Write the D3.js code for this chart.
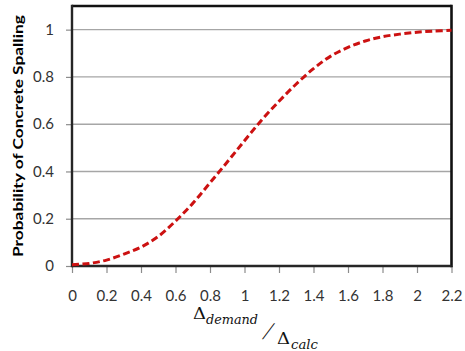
<!DOCTYPE html>
<html>
<head>
<meta charset="utf-8">
<script src="https://cdn.jsdelivr.net/npm/d3@7"></script>
<style>
  html, body { margin: 0; padding: 0; background: #fff; }
  svg { display: block; }
</style>
</head>
<body>
<svg id="chart" width="465" height="351"></svg>
<script>
// Demand-to-capacity ratio and spalling probability along the fragility curve
const ratio = [0, 0.1, 0.2, 0.3, 0.4, 0.5, 0.6, 0.7, 0.8, 0.9, 1.0, 1.1,
               1.2, 1.3, 1.4, 1.5, 1.6, 1.7, 1.8, 1.9, 2.0, 2.1, 2.2];
const probability = [0.005, 0.011, 0.025, 0.05, 0.08, 0.125, 0.19, 0.265,
                     0.352, 0.44, 0.53, 0.618, 0.697, 0.77, 0.835, 0.888,
                     0.925, 0.952, 0.97, 0.981, 0.989, 0.994, 0.997];
const xTicks = [0, 0.2, 0.4, 0.6, 0.8, 1, 1.2, 1.4, 1.6, 1.8, 2, 2.2];
const yTicks = [0, 0.2, 0.4, 0.6, 0.8, 1];

const svg = d3.select("#chart");
const plotLeft = 72, plotRight = 451.5, plotBottom = 266, plotTop = 6;

const x = d3.scaleLinear().domain([0, 2.2]).range([plotLeft, plotRight]);
const y = d3.scaleLinear().domain([0, 1.1]).range([plotBottom, plotTop]);

const tickFont = "Lato, 'Open Sans', sans-serif";

// horizontal gridlines
svg.append("g").selectAll("line")
  .data(yTicks.filter(d => d > 0))
  .join("line")
  .attr("x1", plotLeft).attr("x2", plotRight)
  .attr("y1", d => y(d)).attr("y2", d => y(d))
  .attr("stroke", "#a6a6a6").attr("stroke-width", 1.4);

// y axis
const yAxis = svg.append("g")
  .attr("transform", `translate(${plotLeft},0)`)
  .call(d3.axisLeft(y).tickValues(yTicks).tickSize(6).tickPadding(12)
    .tickFormat(d3.format("~g")));
yAxis.select(".domain").remove();
yAxis.selectAll(".tick line").attr("stroke", "#8c8c8c").attr("stroke-width", 1.2);
yAxis.selectAll(".tick text")
  .attr("font-family", tickFont).attr("font-size", 15)
  .attr("fill", "#333");

// x axis
const xAxis = svg.append("g")
  .attr("transform", `translate(0,${plotBottom})`)
  .call(d3.axisBottom(x).tickValues(xTicks).tickSize(7).tickPadding(17)
    .tickFormat(d3.format("~g")));
xAxis.select(".domain").remove();
xAxis.selectAll(".tick line").attr("stroke", "#8c8c8c").attr("stroke-width", 1.2);
xAxis.selectAll(".tick text")
  .attr("font-family", tickFont).attr("font-size", 15)
  .attr("fill", "#333");

// plot frame
svg.append("line").attr("x1", plotLeft).attr("x2", plotRight).attr("y1", plotTop).attr("y2", plotTop)
  .attr("stroke", "#111").attr("stroke-width", 2.4);
svg.append("line").attr("x1", plotRight).attr("x2", plotRight).attr("y1", plotTop - 1.2).attr("y2", plotBottom + 1.3)
  .attr("stroke", "#111").attr("stroke-width", 2.6);
svg.append("line").attr("x1", plotLeft).attr("x2", plotLeft).attr("y1", plotTop - 1.2).attr("y2", plotBottom + 1.3)
  .attr("stroke", "#262626").attr("stroke-width", 2.4);
svg.append("line").attr("x1", plotLeft).attr("x2", plotRight).attr("y1", plotBottom).attr("y2", plotBottom)
  .attr("stroke", "#262626").attr("stroke-width", 2.6);

// fragility curve
const line = d3.line()
  .x((d, i) => x(ratio[i]))
  .y(d => y(d))
  .curve(d3.curveCatmullRom.alpha(0.5));
svg.append("path")
  .datum(probability)
  .attr("d", line)
  .attr("fill", "none")
  .attr("stroke", "#cc1111")
  .attr("stroke-width", 3)
  .attr("stroke-dasharray", "7,3.5");

// y axis title
svg.append("text")
  .attr("transform", `translate(23,136) rotate(-90)`)
  .attr("text-anchor", "middle")
  .attr("font-family", "Lato, 'Open Sans', sans-serif")
  .attr("font-weight", "bold")
  .attr("font-size", 14)
  .attr("fill", "#000")
  .attr("textLength", 242)
  .attr("lengthAdjust", "spacingAndGlyphs")
  .text("Probability of Concrete Spalling");

// x axis title: skewed fraction Δ_demand / Δ_calc
const serif = "'DejaVu Serif', 'Liberation Serif', serif";
const xt = svg.append("g").attr("fill", "#111");
xt.append("text").attr("x", 193).attr("y", 319)
  .attr("font-family", serif).attr("font-size", 16)
  .attr("textLength", 13).attr("lengthAdjust", "spacingAndGlyphs").text("Δ");
xt.append("text").attr("x", 206).attr("y", 324)
  .attr("font-family", serif).attr("font-style", "italic").attr("font-size", 13)
  .attr("textLength", 52).attr("lengthAdjust", "spacingAndGlyphs").text("demand");
xt.append("text")
  .attr("transform", "translate(262,339) skewX(-22)")
  .attr("font-family", "'Liberation Serif', serif").attr("font-size", 24)
  .text("/");
xt.append("text").attr("x", 277).attr("y", 344)
  .attr("font-family", serif).attr("font-size", 16)
  .attr("textLength", 13).attr("lengthAdjust", "spacingAndGlyphs").text("Δ");
xt.append("text").attr("x", 291).attr("y", 349)
  .attr("font-family", serif).attr("font-style", "italic").attr("font-size", 13)
  .attr("textLength", 27).attr("lengthAdjust", "spacingAndGlyphs").text("calc");
</script>
</body>
</html>
